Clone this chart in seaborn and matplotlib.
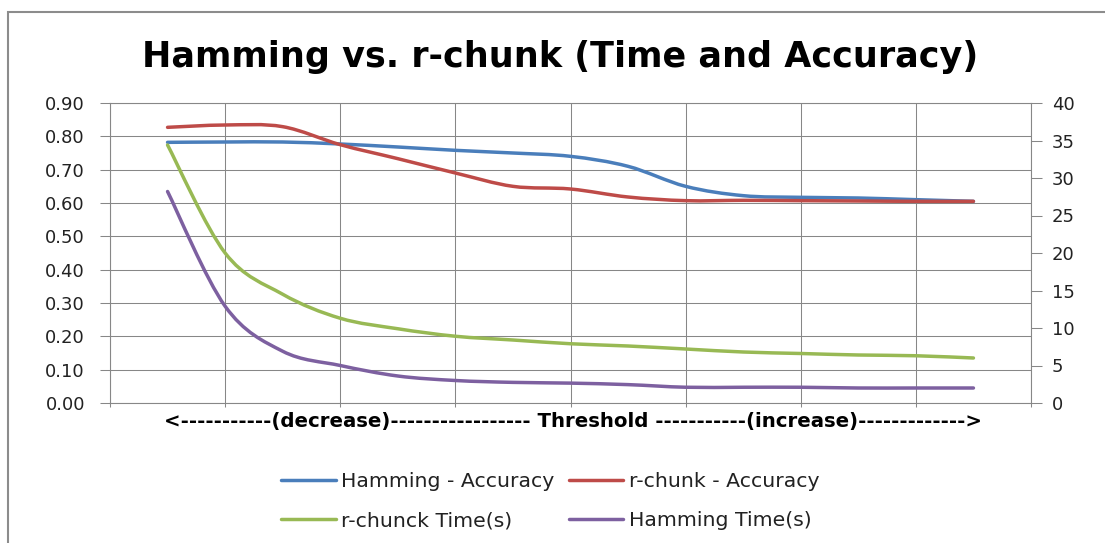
import numpy as np
import matplotlib
matplotlib.use("Agg")
import matplotlib.pyplot as plt
import seaborn as sns
from matplotlib.path import Path
from matplotlib.patches import Rectangle
from matplotlib.lines import Line2D
from matplotlib.patheffects import AbstractPathEffect
from matplotlib.transforms import IdentityTransform

# ---------------- data ----------------
steps = list(range(15))
hamming_acc = [0.782, 0.783, 0.783, 0.777, 0.768, 0.758, 0.750, 0.740,
               0.710, 0.650, 0.622, 0.617, 0.615, 0.610, 0.605]
rchunk_acc = [0.827, 0.834, 0.829, 0.775, 0.733, 0.690, 0.650, 0.642,
              0.618, 0.607, 0.608, 0.607, 0.606, 0.605, 0.605]
rchunk_time = [34.4, 20.0, 14.5, 11.3, 9.9, 8.9, 8.4, 7.9,
               7.6, 7.2, 6.8, 6.6, 6.4, 6.3, 6.0]
hamming_time = [28.2, 12.9, 6.9, 5.0, 3.6, 3.0, 2.75, 2.65,
                2.45, 2.1, 2.1, 2.1, 2.0, 2.0, 2.0]

left_ticks = [0.0, 0.1, 0.2, 0.3, 0.4, 0.5, 0.6, 0.7, 0.8, 0.9]
right_ticks = [0, 5, 10, 15, 20, 25, 30, 35, 40]
grid_x = [-1, 1, 3, 5, 7, 9, 11, 13, 15]

title = "Hamming vs. r-chunk (Time and Accuracy)"
xlabel = "<-----------(decrease)----------------- Threshold -----------(increase)------------->"
labels = ["Hamming - Accuracy", "r-chunk - Accuracy", "r-chunck Time(s)", "Hamming Time(s)"]
colors = ["#4A7EBB", "#BE4B48", "#98B954", "#7D60A0"]


class ExcelSmooth(AbstractPathEffect):
    """Render a polyline as a smoothed Bezier curve through its vertices."""
    def draw_path(self, renderer, gc, tpath, affine, rgbFace=None):
        pts = affine.transform(tpath.vertices)
        n = len(pts)
        if n < 3:
            renderer.draw_path(gc, tpath, affine, rgbFace)
            return
        verts = [pts[0]]
        codes = [Path.MOVETO]
        for i in range(n - 1):
            p0 = pts[i - 1] if i > 0 else pts[i]
            p1 = pts[i]
            p2 = pts[i + 1]
            p3 = pts[i + 2] if i + 2 < n else pts[i + 1]
            verts += [p1 + (p2 - p0) / 6.0, p2 - (p3 - p1) / 6.0, p2]
            codes += [Path.CURVE4] * 3
        renderer.draw_path(gc, Path(np.array(verts), codes), IdentityTransform(), rgbFace)


sns.set_theme(style="white")
plt.rcParams["font.family"] = ["DejaVu Sans"]

W, H = 1105, 543
fig = plt.figure(figsize=(W / 100, H / 100), dpi=100)
fig.patch.set_facecolor("white")

L, R, T, B = 110, 1031, 103, 403
ax = fig.add_axes([L / W, 1 - B / H, (R - L) / W, (B - T) / H])
ax2 = ax.twinx()

gc = "#878787"
lw = 2.5

sns.lineplot(x=steps, y=hamming_acc, ax=ax, color=colors[0], linewidth=lw, legend=False)
sns.lineplot(x=steps, y=rchunk_acc, ax=ax, color=colors[1], linewidth=lw, legend=False)
sns.lineplot(x=steps, y=rchunk_time, ax=ax2, color=colors[2], linewidth=lw, legend=False)
sns.lineplot(x=steps, y=hamming_time, ax=ax2, color=colors[3], linewidth=lw, legend=False)
for a in (ax, ax2):
    for ln in a.lines:
        ln.set_path_effects([ExcelSmooth()])
        ln.set_solid_capstyle("round")

ax.set_xlim(-1, 15)
ax.set_ylim(0, 0.9)
ax2.set_ylim(0, 40)
ax.set_xticks(grid_x)
ax.set_xticklabels([])
ax.set_yticks(left_ticks)
ax.set_yticklabels([f"{v:.2f}" for v in left_ticks])
ax2.set_yticks(right_ticks)
ax2.set_yticklabels([str(v) for v in right_ticks])
ax.set_xlabel("")
ax.set_ylabel("")
ax2.set_ylabel("")

ax.grid(True, color=gc, linewidth=0.75)
ax.set_axisbelow(True)
ax2.grid(False)

for a in (ax, ax2):
    for s in a.spines.values():
        s.set_color(gc)
        s.set_linewidth(0.75)
ax.tick_params(axis="x", length=3, width=0.75, color=gc, direction="out", bottom=True)
ax.tick_params(axis="y", length=7, width=0.75, color=gc, direction="out", left=True,
               labelsize=13, labelcolor="#222222", pad=11)
ax2.tick_params(axis="y", length=8, width=0.75, color=gc, direction="out", right=True,
                labelsize=13, labelcolor="#222222", pad=7)

fig.text(560 / W, 1 - 66.7 / H, title, ha="center", va="baseline",
         fontsize=25.2, fontweight="bold", color="black")
fig.text(572.5 / W, 1 - 427 / H, xlabel, ha="center", va="baseline",
         fontsize=14.2, fontweight="bold", color="black")

order = [0, 2, 1, 3]
handles = [Line2D([0], [0], color=colors[i], linewidth=lw) for i in order]
leg = fig.legend(handles, [labels[i] for i in order], ncol=2, frameon=False,
                 loc="upper left", bbox_to_anchor=(281 / W, 1 - 472 / H),
                 borderpad=0, borderaxespad=0, handlelength=2.69, handletextpad=0.25,
                 columnspacing=0.7, labelspacing=1.0, fontsize=14.7)
for t in leg.get_texts():
    t.set_color("#222222")

fig.add_artist(Rectangle((8 / W, -0.05), 1.2, 1 - 12 / H + 0.05, transform=fig.transFigure,
                         fill=False, edgecolor="#8C8C8C", linewidth=1.5, clip_on=False))

fig.savefig("out.png", dpi=100, facecolor="white")
